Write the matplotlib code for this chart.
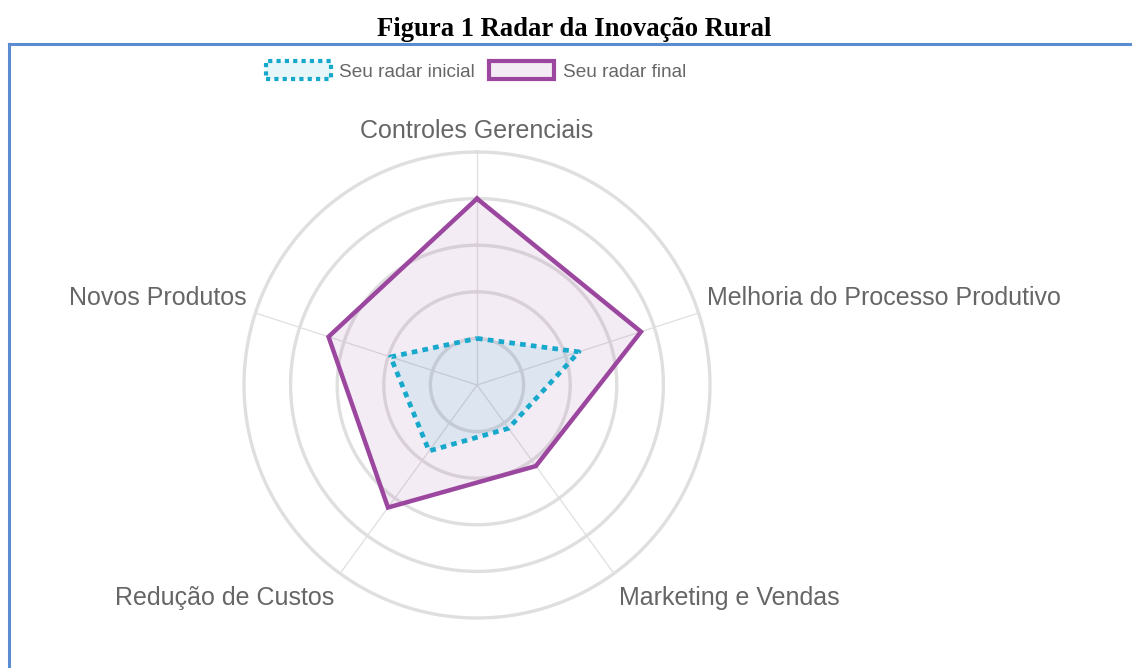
import numpy as np
import matplotlib
matplotlib.use("Agg")
import matplotlib.pyplot as plt
from matplotlib.patches import Patch
from matplotlib.lines import Line2D
from matplotlib.transforms import offset_copy

categories = ["Controles Gerenciais", "Melhoria do Processo Produtivo",
              "Marketing e Vendas", "Redução de Custos", "Novos Produtos"]
radar_inicial = [20, 46, 23, 35, 39]
radar_final = [80, 74, 43, 65, 67]
ring_ticks = [20, 40, 60, 80, 100]

COL_INI = "#17a9cc"
COL_FIN = "#9b479f"
LABEL_COL = "#666666"
GRID_COL = "#dfdfdf"

W, H = 1132, 668
fig = plt.figure(figsize=(W / 100, H / 100), dpi=100)

# polar axes: center ~(477,385) px, outer ring radius ~233 px
cx, cy, R = 477, 385, 233
ax = fig.add_axes([(cx - R) / W, (H - cy - R) / H, 2 * R / W, 2 * R / H], polar=True)
ax.set_theta_offset(np.pi / 2)
ax.set_theta_direction(-1)
ax.set_ylim(0, 100)
ax.set_xticks([])
ax.set_yticks([])
ax.grid(False)
ax.spines["polar"].set_visible(False)
ax.patch.set_alpha(0)

n = len(categories)
angles = np.linspace(0, 2 * np.pi, n, endpoint=False)
t = np.linspace(0, 2 * np.pi, 400)

# rings and spokes
for r in ring_ticks:
    ax.plot(t, np.full_like(t, r), color=GRID_COL, lw=2.4, clip_on=False, zorder=1)
for a in angles:
    ax.plot([a, a], [0, ring_ticks[-1]], color=GRID_COL, lw=0.9, clip_on=False, zorder=1)

# datasets
ang_c = np.append(angles, angles[0])
fin = np.append(radar_final, radar_final[0])
ini = np.append(radar_inicial, radar_inicial[0])

ax.fill(ang_c, fin, color=COL_FIN, alpha=0.1, lw=0, zorder=2)
ax.fill(ang_c, ini, color=COL_INI, alpha=0.1, lw=0, zorder=2)
ax.plot(ang_c, fin, color=COL_FIN, lw=3.2, zorder=3, solid_joinstyle="miter")
ax.plot(ang_c, ini, color=COL_INI, lw=3.4, zorder=3, linestyle=(0, (1.2, 1.1)),
        dash_capstyle="butt")

# point labels
low = offset_copy(ax.transData, fig=fig, x=0, y=-5, units="dots")
for a, lab in zip(angles, categories):
    s, c = np.sin(a), np.cos(a)
    if abs(s) < 1e-6:
        ha = "center"
    elif s > 0:
        ha = "left"
    else:
        ha = "right"
    va = "bottom" if c > 0 else "top"
    tr = ax.transData if c > 0 else low
    ax.text(a, 104, lab, ha=ha, va=va, fontsize=18, color=LABEL_COL,
            family="Liberation Sans", clip_on=False, transform=tr)

# legend
handles = [
    Patch(facecolor=(23 / 255, 169 / 255, 204 / 255, 0.1), edgecolor=COL_INI,
          linewidth=3, linestyle=(0, (1, 1))),
    Patch(facecolor=(155 / 255, 71 / 255, 159 / 255, 0.1), edgecolor=COL_FIN,
          linewidth=3),
]
leg = fig.legend(handles, ["Seu radar inicial", "Seu radar final"], ncol=2,
                 loc="center", bbox_to_anchor=(476 / W, 1 - 71 / H),
                 frameon=False, handlelength=3.4, handleheight=1.0,
                 handletextpad=0.45, columnspacing=0.75,
                 prop={"family": "Liberation Sans", "size": 13.7})
for txt in leg.get_texts():
    txt.set_color(LABEL_COL)

# title
fig.text(574 / W, 1 - 29 / H, "Figura 1 Radar da Inovação Rural", ha="center",
         va="center", fontsize=19.2, fontweight="bold", family="Liberation Serif")

# blue frame lines (document border)
border = "#5b8bd0"
fig.add_artist(Line2D([9 / W, 1], [1 - 44 / H, 1 - 44 / H], color=border, lw=2.2))
fig.add_artist(Line2D([9 / W, 9 / W], [0, 1 - 44 / H], color=border, lw=2.2))

fig.savefig("out.png", dpi=100)
